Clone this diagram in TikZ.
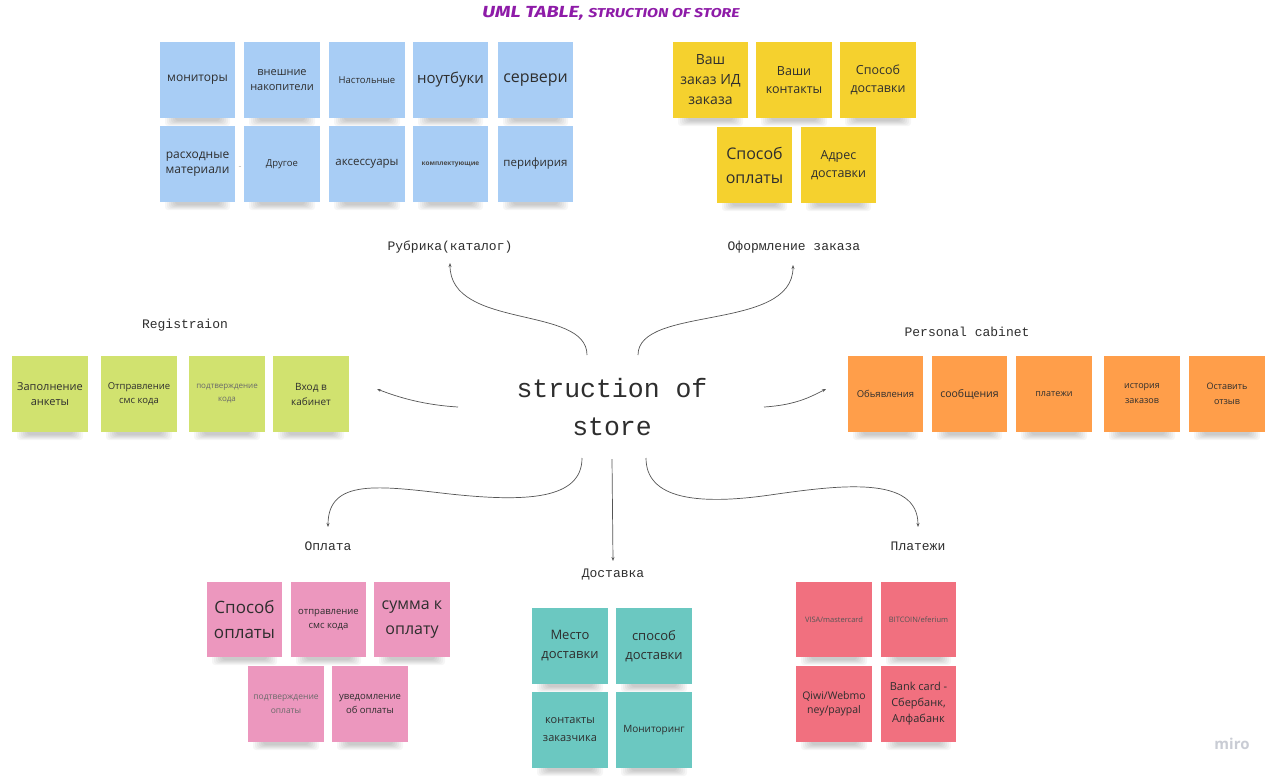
\documentclass[tikz,border=0pt]{standalone}
\usepackage{fontspec}
\setmainfont{Open Sans}
\newfontfamily\monof{Liberation Mono}
\newfontfamily\titlef{Fira Sans}
\usetikzlibrary{arrows.meta}
\definecolor{stblue}{HTML}{A8CDF5}
\definecolor{styellow}{HTML}{F5D12E}
\definecolor{stgreen}{HTML}{D1E26F}
\definecolor{storange}{HTML}{FF9E4A}
\definecolor{stpink}{HTML}{EC97BE}
\definecolor{stteal}{HTML}{6BC8C1}
\definecolor{stred}{HTML}{F1707F}
\definecolor{txt}{HTML}{2E2E2E}
\definecolor{txtgray}{HTML}{6A6A6A}
\definecolor{lineg}{HTML}{555555}
\definecolor{ttl}{HTML}{8E1BA8}
\definecolor{mirogray}{HTML}{C9CCD4}
\newcommand{\fs}[2]{\fontsize{#1}{#2}\selectfont}
% \stk[opts]{name}{x}{y}{w}{h}{colour}{text}
\newcommand{\stk}[8][]{%
  \foreach \i in {0,...,5}{%
    \fill[black,opacity=.035,rounded corners=3] (#3+5+2*\i,#4+#6-4) rectangle (#3+#5-5-2*\i,#4+#6+8-\i);
  }
  \node[sticky,fill=#7,minimum width=#5,minimum height=#6,#1] (#2) at (#3+#5/2,#4+#6/2) {#8};
}
\tikzset{
  sticky/.style={inner sep=0pt,align=center,text=txt,font=\fs{11}{15}},
  lbl/.style={font=\monof\fs{13}{16},text=txt},
  conn/.style={draw=lineg,line width=0.7pt,-{Stealth[length=4pt,width=3pt]}},
}
\begin{document}
\begin{tikzpicture}[x=1pt,y=-1pt]
\fill[white] (0,0) rectangle (1282,779);
\useasboundingbox (0,0) rectangle (1282,779);

% title
\node[text=ttl,font=\titlef\bfseries\itshape] (title) at (611,13) {\scalebox{1.33}[1.07]{\fs{15}{18}UML TABLE, {\fs{12}{18}STRUCTION OF STORE}}};

% centre
\node[font=\monof\fs{26.5}{38},text=txt,align=center] (center) at (612,407) {struction of\\store};

% labels
\node[lbl] (rub) at (450,247) {Рубрика(каталог)};
\node[lbl] (ofo) at (794,247) {Оформление заказа};
\node[lbl] (reg) at (185,325) {Registraion};
\node[lbl] (pc) at (967,332) {Personal cabinet};
\node[lbl] (opl) at (328,546) {Оплата};
\node[lbl] (dost) at (613,575) {Доставка};
\node[lbl] (plat) at (918,546) {Платежи};

% connector end points
\coordinate (cRubS) at (587,355);
\coordinate (cRubE) at (450,263);
\coordinate (cOfoS) at (638,355);
\coordinate (cOfoE) at (793,265);
\coordinate (cRegS) at (458,407);
\coordinate (cRegE) at (377,389);
\coordinate (cPcS) at (764,407);
\coordinate (cPcE) at (826,389);
\coordinate (cOplS) at (582,458);
\coordinate (cOplE) at (328,527);
\coordinate (cDostS) at (612,459);
\coordinate (cDostE) at (613,561);
\coordinate (cPlatS) at (646,458);
\coordinate (cPlatE) at (918,527);

\draw[conn] (cRubS) .. controls (587,305) and (450,330) .. (cRubE);
\draw[conn] (cOfoS) .. controls (638,305) and (793,332) .. (cOfoE);
\draw[conn] (cRegS) .. controls (425,405) and (400,398) .. (cRegE);
\draw[conn] (cPcS) .. controls (797,405) and (812,396) .. (cPcE);
\draw[conn] (cOplS) .. controls (582,500) and (525,502) .. (450,494) .. controls (380,486) and (328,478) .. (cOplE);
\draw[conn] (cDostS) -- (cDostE);
\draw[conn] (cPlatS) .. controls (646,500) and (700,505) .. (770,495) .. controls (840,485) and (918,475) .. (cPlatE);

% blue
\stk[font=\fs{12}{16}]{b1}{160}{42}{75}{76}{stblue}{мониторы}
\stk[font=\fs{11}{15}]{b2}{244}{42}{76}{76}{stblue}{внешние\\накопители}
\stk[font=\fs{9.5}{13}]{b3}{329}{42}{76}{76}{stblue}{Настольные}
\stk[font=\fs{15}{19}]{b4}{413}{42}{75}{76}{stblue}{ноутбуки}
\stk[font=\fs{16}{20}]{b5}{498}{42}{75}{76}{stblue}{сервери}
\stk[font=\fs{12}{15}]{b6}{160}{126}{75}{76}{stblue}{расходные\\материали}
\stk[font=\fs{9.5}{13}]{b7}{244}{126}{76}{76}{stblue}{Другое}
\stk[font=\fs{11.5}{15}]{b8}{329}{126}{76}{76}{stblue}{аксессуары}
\stk[font=\fs{6.5}{8}\bfseries,text=txtgray!70!black]{b9}{413}{126}{75}{76}{stblue}{комплектующие}
\stk[font=\fs{11.5}{15}]{b10}{498}{126}{75}{76}{stblue}{перифирия}
\node[text=gray!60,font=\fs{9}{10}] (dash) at (240,168) {-};

% yellow
\stk[font=\fs{14}{20}]{y1}{673}{42}{75}{76}{styellow}{Ваш\\заказ ИД\\заказа}
\stk[font=\fs{12.5}{18}]{y2}{756}{42}{76}{76}{styellow}{Ваши\\контакты}
\stk[font=\fs{12.5}{18}]{y3}{840}{42}{76}{76}{styellow}{Способ\\доставки}
\stk[font=\fs{16}{24}]{y4}{717}{127}{75}{76}{styellow}{Способ\\оплаты}
\stk[font=\fs{12.5}{18}]{y5}{801}{127}{75}{76}{styellow}{Адрес\\доставки}

% green
\stk[font=\fs{11}{15}]{g1}{12}{356}{76}{76}{stgreen}{Заполнение\\анкеты}
\stk[font=\fs{9.5}{14}]{g2}{101}{356}{76}{76}{stgreen}{Отправление\\смс кода}
\stk[font=\fs{8}{13},text=txtgray]{g3}{189}{356}{76}{76}{stgreen}{подтверждение\\кода}
\stk[font=\fs{10}{15}]{g4}{273}{356}{76}{76}{stgreen}{Вход в\\кабинет}

% orange
\stk[font=\fs{9.5}{13}]{o1}{848}{356}{75}{76}{storange}{Обьявления}
\stk[font=\fs{10.5}{14}]{o2}{932}{356}{75}{76}{storange}{сообщения}
\stk[font=\fs{9}{13}]{o3}{1016}{356}{76}{76}{storange}{платежи}
\stk[font=\fs{9}{15}]{o4}{1104}{356}{76}{76}{storange}{история\\заказов}
\stk[font=\fs{9}{15}]{o5}{1189}{356}{76}{76}{storange}{Оставить\\отзыв}

% pink
\stk[font=\fs{17}{25}]{p1}{207}{582}{75}{75}{stpink}{Способ\\оплаты}
\stk[font=\fs{9.5}{14}]{p2}{291}{582}{75}{75}{stpink}{отправление\\смс кода}
\stk[font=\fs{16}{25}]{p3}{374}{582}{76}{75}{stpink}{сумма к\\оплату}
\stk[font=\fs{8.5}{14},text=txtgray]{p4}{248}{666}{76}{76}{stpink}{подтверждение\\оплаты}
\stk[font=\fs{9.5}{14}]{p5}{332}{666}{76}{76}{stpink}{уведомление\\об оплаты}

% teal
\stk[font=\fs{13}{19}]{t1}{532}{608}{76}{76}{stteal}{Место\\доставки}
\stk[font=\fs{13}{19}]{t2}{616}{608}{76}{76}{stteal}{способ\\доставки}
\stk[font=\fs{11}{18}]{t3}{532}{692}{76}{76}{stteal}{контакты\\заказчика}
\stk[font=\fs{10}{14}]{t4}{616}{692}{76}{76}{stteal}{Мониторинг}

% red
\stk[font=\fs{7.5}{10},text=txtgray!80!black]{r1}{796}{582}{76}{75}{stred}{VISA/mastercard}
\stk[font=\fs{7.5}{10},text=txtgray!80!black]{r2}{881}{582}{75}{75}{stred}{BITCOIN/eferium}
\stk[font=\fs{10.5}{14}]{r3}{796}{666}{76}{76}{stred}{Qiwi/Webmo\\ney/paypal}
\stk[font=\fs{11}{16}]{r4}{881}{666}{75}{76}{stred}{Bank card -\\Сбербанк,\\Алфабанк}

% logo
\node[text=mirogray,font=\fs{15}{18}\bfseries] (miro) at (1232,744) {miro};
\end{tikzpicture}
\end{document}
